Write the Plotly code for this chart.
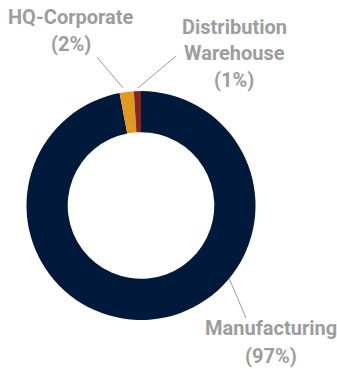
import plotly.graph_objects as go

W, H = 337, 369

categories = ["Manufacturing", "HQ-Corporate", "Distribution Warehouse"]
values = [97, 2, 1]
colors = ["#011a3c", "#e1991f", "#8a2326"]

label_lines = [
    ["Manufacturing", "(97%)"],
    ["HQ-Corporate", "(2%)"],
    ["Distribution", "Warehouse", "(1%)"],
]
# label positions in pixels: (center x, list of line center y)
label_pos = [
    (271, [328, 356]),
    (71, [17, 44]),
    (234, [27, 53, 80]),
]
# leader lines in pixels: (x0, y0, x1, y1)
leaders = [
    (229, 278, 246, 318),
    (97, 57, 123, 88),
    (176, 56, 138, 88),
]

def px(x):
    return x / W

def py(y):
    return 1 - y / H

fig = go.Figure(
    go.Pie(
        labels=categories,
        values=values,
        marker=dict(colors=colors, line=dict(width=0)),
        hole=0.64,
        sort=False,
        direction="clockwise",
        rotation=0,
        textinfo="none",
        hoverinfo="label+percent",
        showlegend=False,
        domain=dict(x=[px(26), px(256)], y=[py(320), py(91)]),
    )
)

annotations = []
for lines, (cx, ys) in zip(label_lines, label_pos):
    for t, yy in zip(lines, ys):
        annotations.append(
            dict(
                text=t,
                x=px(cx),
                y=py(yy),
                xref="paper",
                yref="paper",
                xanchor="center",
                yanchor="middle",
                showarrow=False,
                font=dict(family="Roboto", size=20, color="#9d9d9d", weight="bold"),
            )
        )

shapes = []
for x0, y0, x1, y1 in leaders:
    shapes.append(
        dict(
            type="line",
            xref="paper",
            yref="paper",
            x0=px(x0),
            y0=py(y0),
            x1=px(x1),
            y1=py(y1),
            line=dict(color="#9a9a9a", width=1),
        )
    )

fig.update_layout(
    width=W,
    height=H,
    margin=dict(l=0, r=0, t=0, b=0),
    paper_bgcolor="white",
    plot_bgcolor="white",
    annotations=annotations,
    shapes=shapes,
)

fig.write_html("out.html")
